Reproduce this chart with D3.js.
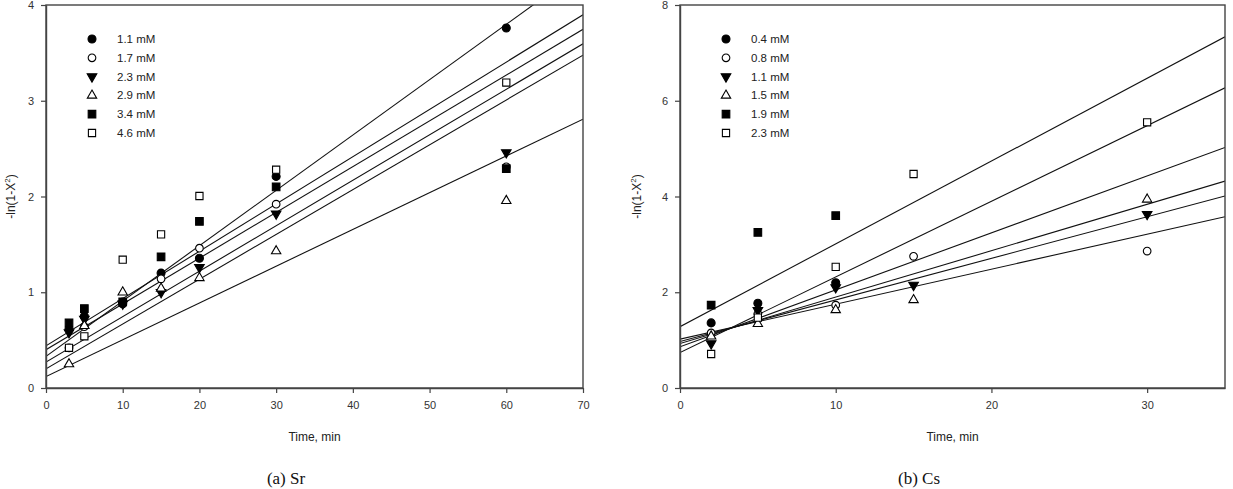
<!DOCTYPE html>
<html>
<head>
<meta charset="utf-8">
<script src="https://cdn.jsdelivr.net/npm/d3@7"></script>
<style>
  body { margin: 0; background: #fff; }
  svg { display: block; }
</style>
</head>
<body>
<svg id="chart" width="1233" height="489"></svg>
<script>
// ---- data ----
const srTimes = [3, 5, 10, 15, 20, 30, 60];
const srLabels = ["1.1 mM", "1.7 mM", "2.3 mM", "2.9 mM", "3.4 mM", "4.6 mM"];
const srValues = [
  [0.62, 0.75, 0.88, 1.20, 1.355, 2.21, 3.76],
  [0.42, 0.64, 0.90, 1.14, 1.46, 1.92, 2.31],
  [0.58, 0.72, 0.88, 1.00, 1.26, 1.82, 2.46],
  [0.25, 0.65, 1.00, 1.04, 1.15, 1.43, 1.955],
  [0.68, 0.83, 0.90, 1.37, 1.74, 2.10, 2.29],
  [0.42, 0.54, 1.34, 1.605, 2.005, 2.28, 3.19]
];
const srIntercepts = [0.33, 0.27, 0.20, 0.12, 0.40, 0.44];
const srSlopes = [0.0578, 0.0475, 0.0468, 0.0384, 0.0478, 0.0494];

const csTimes = [2, 5, 10, 15, 30];
const csLabels = ["0.4 mM", "0.8 mM", "1.1 mM", "1.5 mM", "1.9 mM", "2.3 mM"];
const csValues = [
  [1.36, 1.77, 2.20, null, null],
  [1.15, 1.55, 1.73, 2.75, 2.86],
  [0.93, 1.62, 2.10, 2.15, 3.63],
  [1.08, 1.34, 1.63, 1.84, 3.94],
  [1.73, 3.25, 3.60, null, null],
  [0.71, 1.47, 2.53, 4.47, 5.55]
];
const csIntercepts = [0.86, 1.02, 0.97, 0.93, 1.28, 0.74];
const csSlopes = [0.119, 0.0731, 0.0869, 0.0969, 0.173, 0.158];

const srXTicks = [0, 10, 20, 30, 40, 50, 60, 70];
const srYTicks = [0, 1, 2, 3, 4];
const csXTicks = [0, 10, 20, 30];
const csYTicks = [0, 2, 4, 6, 8];

const SANS = "Arial, 'Liberation Sans', sans-serif";
const SERIF = "'Liberation Serif', 'Times New Roman', serif";

// marker styles, same order for both panels
const markers = [
  {shape: d3.symbolCircle, fill: "#000", rot: 0, size: 50},
  {shape: d3.symbolCircle, fill: "#fff", rot: 0, size: 46},
  {shape: d3.symbolTriangle, fill: "#000", rot: 180, size: 40},
  {shape: d3.symbolTriangle, fill: "#fff", rot: 0, size: 38},
  {shape: d3.symbolSquare, fill: "#000", rot: 0, size: 58},
  {shape: d3.symbolSquare, fill: "#fff", rot: 0, size: 52}
];

const svg = d3.select("#chart");

let draw_panel = (cfg) => {
  const x = d3.scaleLinear().domain(cfg.xDomain).range([cfg.left, cfg.right]);
  const y = d3.scaleLinear().domain(cfg.yDomain).range([cfg.bottom, cfg.top]);
  const g = svg.append("g");

  g.append("clipPath").attr("id", cfg.id + "-clip")
    .append("rect")
    .attr("x", cfg.left).attr("y", cfg.top)
    .attr("width", cfg.right - cfg.left).attr("height", cfg.bottom - cfg.top);

  // fitted lines
  const lineData = cfg.intercepts.map((b, i) => ({b: b, s: cfg.slopes[i]}));
  g.append("g")
    .attr("clip-path", `url(#${cfg.id}-clip)`)
    .selectAll("line")
    .data(lineData)
    .join("line")
    .attr("x1", x(cfg.xDomain[0]))
    .attr("y1", d => y(d.b + d.s * cfg.xDomain[0]))
    .attr("x2", x(cfg.xDomain[1]))
    .attr("y2", d => y(d.b + d.s * cfg.xDomain[1]))
    .attr("stroke", "#111")
    .attr("stroke-width", 1.1);

  // frame
  g.append("rect")
    .attr("x", cfg.left).attr("y", cfg.top)
    .attr("width", cfg.right - cfg.left).attr("height", cfg.bottom - cfg.top)
    .attr("fill", "none").attr("stroke", "#444").attr("stroke-width", 1.4);

  // axes
  const xAxis = g.append("g")
    .attr("transform", `translate(0,${cfg.bottom})`)
    .call(d3.axisBottom(x).tickValues(cfg.xTicks).tickFormat(d3.format("d"))
      .tickSize(5).tickSizeOuter(0).tickPadding(8));
  const yAxis = g.append("g")
    .attr("transform", `translate(${cfg.left},0)`)
    .call(d3.axisLeft(y).tickValues(cfg.yTicks).tickFormat(d3.format("d"))
      .tickSize(5).tickSizeOuter(0).tickPadding(7));
  [xAxis, yAxis].forEach(a => {
    a.select(".domain").attr("stroke", "#444").attr("stroke-width", 1.4);
    a.selectAll(".tick line").attr("stroke", "#444").attr("stroke-width", 1.2);
    a.selectAll(".tick text").attr("font-size", 11).attr("fill", "#333")
      .attr("font-family", SANS);
  });

  // points
  cfg.values.forEach((series, i) => {
    const m = markers[i];
    const pts = series.map((v, j) => ({t: cfg.times[j], v: v})).filter(d => d.v != null);
    g.append("g").selectAll("path")
      .data(pts)
      .join("path")
      .attr("d", d3.symbol().type(m.shape).size(m.size))
      .attr("transform", d => `translate(${x(d.t)},${y(d.v)}) rotate(${m.rot})`)
      .attr("fill", m.fill)
      .attr("stroke", "#000")
      .attr("stroke-width", 1.1);
  });

  // legend
  const leg = g.append("g");
  cfg.labels.forEach((lab, i) => {
    const m = markers[i];
    const ly = cfg.top + 34 + i * 18.8;
    leg.append("path")
      .attr("d", d3.symbol().type(m.shape).size(m.size))
      .attr("transform", `translate(${cfg.left + 46},${ly}) rotate(${m.rot})`)
      .attr("fill", m.fill).attr("stroke", "#000").attr("stroke-width", 1.1);
    leg.append("text")
      .attr("x", cfg.left + 71).attr("y", ly)
      .attr("dy", "0.35em")
      .attr("font-family", SANS).attr("font-size", 11.5).attr("fill", "#222")
      .text(lab);
  });

  // axis titles
  g.append("text")
    .attr("x", (cfg.left + cfg.right) / 2).attr("y", cfg.bottom + 53)
    .attr("text-anchor", "middle")
    .attr("font-family", SANS).attr("font-size", 12).attr("fill", "#222")
    .text("Time, min");

  const yl = g.append("text")
    .attr("transform", `translate(${cfg.yLabelX},${y((cfg.yDomain[0] + cfg.yDomain[1]) / 2)}) rotate(-90)`)
    .attr("text-anchor", "middle")
    .attr("font-family", SANS).attr("font-size", 12).attr("fill", "#222");
  yl.append("tspan").text("-ln(1-X");
  yl.append("tspan").attr("dy", -5).attr("font-size", 8).text("2");
  yl.append("tspan").attr("dy", 5).text(")");

  // caption
  g.append("text")
    .attr("x", cfg.captionX).attr("y", cfg.bottom + 96)
    .attr("text-anchor", "middle")
    .attr("font-family", SERIF)
    .attr("font-size", 17).attr("fill", "#111")
    .text(cfg.caption);
};

draw_panel({
  id: "sr", left: 46, right: 583, top: 5, bottom: 388,
  xDomain: [0, 70], yDomain: [0, 4],
  xTicks: srXTicks, yTicks: srYTicks,
  times: srTimes, values: srValues, labels: srLabels,
  intercepts: srIntercepts, slopes: srSlopes,
  yLabelX: 15, captionX: 286, caption: "(a) Sr"
});

draw_panel({
  id: "cs", left: 680, right: 1225, top: 5, bottom: 388,
  xDomain: [0, 35], yDomain: [0, 8],
  xTicks: csXTicks, yTicks: csYTicks,
  times: csTimes, values: csValues, labels: csLabels,
  intercepts: csIntercepts, slopes: csSlopes,
  yLabelX: 641, captionX: 919, caption: "(b) Cs"
});
</script>
</body>
</html>
